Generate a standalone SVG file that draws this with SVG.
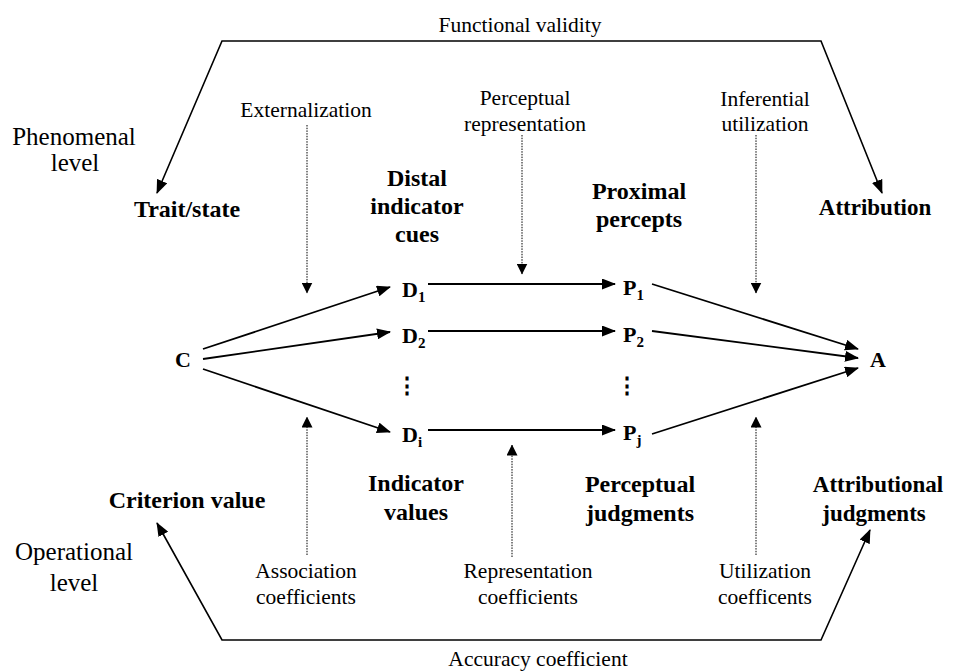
<svg xmlns="http://www.w3.org/2000/svg" width="953" height="671" viewBox="0 0 953 671">
<defs>
<marker id="ah" markerUnits="userSpaceOnUse" markerWidth="14" markerHeight="11" refX="13" refY="5.5" orient="auto-start-reverse" viewBox="0 0 14 11">
<path d="M0,0 L14,5.5 L0,11 z" fill="#000"/>
</marker>
<marker id="ahd" markerUnits="userSpaceOnUse" markerWidth="11" markerHeight="11" refX="10.5" refY="5.5" orient="auto" viewBox="0 0 11 11">
<path d="M0,0 L11,5.5 L0,11 z" fill="#000"/>
</marker>
</defs>
<style>
.r{font-size:21.5px;fill:#000;text-anchor:middle}
.lv{font-size:25px;fill:#000;text-anchor:middle}
.b{font-size:24px;font-weight:bold;fill:#000;text-anchor:middle}
.v{font-size:22px;font-weight:bold;fill:#000}
.sub{font-size:15px}
.dots{font-size:22px;font-weight:bold;fill:#000;text-anchor:middle}
.s{fill:none;stroke:#000;stroke-width:1.8}
.p{fill:none;stroke:#000;stroke-width:1.6}
.d{fill:none;stroke:#000;stroke-width:1;stroke-dasharray:1.5 1.2}
</style>
<rect width="953" height="671" fill="#fff"/>

<g id="connectors">
<polyline class="p" points="157,193 222,41 821,41 882,193" marker-start="url(#ah)" marker-end="url(#ah)"/>
<polyline class="p" points="157,523 222,640 821,640 870,530" marker-start="url(#ah)" marker-end="url(#ah)"/>
<line class="s" x1="203" y1="349" x2="390" y2="287" marker-end="url(#ah)"/>
<line class="s" x1="203" y1="359" x2="390" y2="332" marker-end="url(#ah)"/>
<line class="s" x1="203" y1="369" x2="390" y2="432" marker-end="url(#ah)"/>
<line class="s" x1="428" y1="284" x2="615" y2="284" marker-end="url(#ah)"/>
<line class="s" x1="428" y1="331" x2="615" y2="331" marker-end="url(#ah)"/>
<line class="s" x1="428" y1="430" x2="615" y2="430" marker-end="url(#ah)"/>
<line class="s" x1="652" y1="284" x2="858" y2="349" marker-end="url(#ah)"/>
<line class="s" x1="652" y1="331" x2="858" y2="358" marker-end="url(#ah)"/>
<line class="s" x1="652" y1="434" x2="858" y2="368" marker-end="url(#ah)"/>
<line class="d" x1="307" y1="125" x2="307" y2="293" marker-end="url(#ahd)"/>
<line class="d" x1="522" y1="135" x2="522" y2="274" marker-end="url(#ahd)"/>
<line class="d" x1="756" y1="135" x2="756" y2="293" marker-end="url(#ahd)"/>
<line class="d" x1="307" y1="555" x2="307" y2="417" marker-end="url(#ahd)"/>
<line class="d" x1="512" y1="557" x2="512" y2="445" marker-end="url(#ahd)"/>
<line class="d" x1="756" y1="555" x2="756" y2="417" marker-end="url(#ahd)"/>
</g>

<g font-family="'Liberation Serif', 'DejaVu Serif', serif">
<g id="functional-validity"><text class="r" x="520" y="32">Functional validity</text></g>
<g id="accuracy-coefficient"><text class="r" x="538" y="666">Accuracy coefficient</text></g>
<g id="phenomenal-level"><text class="lv" x="74" y="145">Phenomenal</text><text class="lv" x="75" y="171">level</text></g>
<g id="operational-level"><text class="lv" x="74" y="560">Operational</text><text class="lv" x="74" y="591">level</text></g>

<g id="externalization"><text class="r" x="306" y="117">Externalization</text></g>
<g id="perceptual-representation"><text class="r" x="525" y="105">Perceptual</text><text class="r" x="525" y="131">representation</text></g>
<g id="inferential-utilization"><text class="r" x="765" y="106">Inferential</text><text class="r" x="765" y="131">utilization</text></g>

<g id="trait-state"><text class="b" x="187" y="217">Trait/state</text></g>
<g id="distal-indicator-cues"><text class="b" x="417" y="186">Distal</text><text class="b" x="417" y="214">indicator</text><text class="b" x="417" y="242">cues</text></g>
<g id="proximal-percepts"><text class="b" x="639" y="199">Proximal</text><text class="b" x="639" y="227">percepts</text></g>
<g id="attribution"><text class="b" x="875" y="215" style="font-size:23px">Attribution</text></g>

<g id="C"><text class="v" x="175" y="367">C</text></g>
<g id="D1"><text class="v" x="402" y="297">D<tspan class="sub" dy="5">1</tspan></text></g>
<g id="D2"><text class="v" x="402" y="343">D<tspan class="sub" dy="5">2</tspan></text></g>
<g id="Dvdots"><text class="dots" x="407" y="393" font-family="'DejaVu Serif', serif">⋮</text></g>
<g id="Di"><text class="v" x="402" y="442">D<tspan class="sub" dy="5">i</tspan></text></g>
<g id="P1"><text class="v" x="623" y="295">P<tspan class="sub" dy="5">1</tspan></text></g>
<g id="P2"><text class="v" x="623" y="342">P<tspan class="sub" dy="5">2</tspan></text></g>
<g id="Pvdots"><text class="dots" x="627" y="393" font-family="'DejaVu Serif', serif">⋮</text></g>
<g id="Pj"><text class="v" x="623" y="440">P<tspan class="sub" dy="5">j</tspan></text></g>
<g id="A"><text class="v" x="870" y="367">A</text></g>

<g id="criterion-value"><text class="b" x="187" y="508">Criterion value</text></g>
<g id="indicator-values"><text class="b" x="416" y="491">Indicator</text><text class="b" x="416" y="520">values</text></g>
<g id="perceptual-judgments"><text class="b" x="640" y="492">Perceptual</text><text class="b" x="640" y="521">judgments</text></g>
<g id="attributional-judgments"><text class="b" x="878" y="492" style="font-size:23px">Attributional</text><text class="b" x="874" y="521" style="font-size:23px">judgments</text></g>

<g id="association-coefficients"><text class="r" x="306" y="578">Association</text><text class="r" x="306" y="604">coefficients</text></g>
<g id="representation-coefficients"><text class="r" x="528" y="578">Representation</text><text class="r" x="528" y="604">coefficients</text></g>
<g id="utilization-coefficents"><text class="r" x="765" y="578">Utilization</text><text class="r" x="765" y="604">coefficents</text></g>
</g>
</svg>
